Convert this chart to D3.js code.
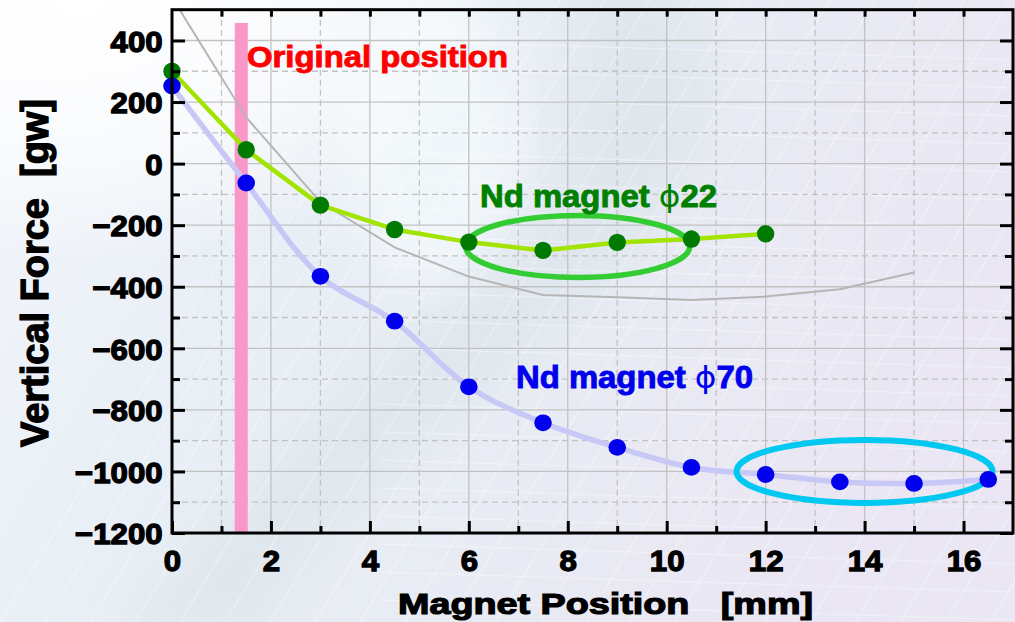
<!DOCTYPE html>
<html><head><meta charset="utf-8">
<script src="https://cdn.jsdelivr.net/npm/d3@7"></script>
<style>
body{margin:0;background:#fff;}
svg{display:block;}
text{font-family:"Liberation Sans",Arial,Helvetica,sans-serif;}
</style>
</head><body>
<svg id="chart" width="1015" height="622"></svg>
<script>
// ---------- data ----------
const phi22Pos   = [0, 1.5, 3, 4.5, 6, 7.5, 9, 10.5, 12];
const phi22Force = [300, 45, -135, -214, -255, -282, -256, -245, -228];
const phi70Pos   = [0, 1.5, 3, 4.5, 6, 7.5, 9, 10.5, 12, 13.5, 15, 16.5];
const phi70Force = [252, -63, -366, -512, -725, -842, -922, -987, -1010, -1034, -1039, -1026];
const refPos     = [0, 1.5, 3, 4.5, 6, 7.5, 9, 10.5, 12, 13.5, 15];
const refForce   = [540, 150, -125, -272, -367, -427, -434, -443, -432, -408, -354];
const xMajorTicks = [0, 2, 4, 6, 8, 10, 12, 14, 16];
const xMinorTicks = [1, 3, 5, 7, 9, 11, 13, 15];
const yMajorTicks = [-1200, -1000, -800, -600, -400, -200, 0, 200, 400];
const yMinorTicks = [-1100, -900, -700, -500, -300, -100, 100, 300];
const originalPosition = 1.4;
const originalTop = 457;
const labels = {
  x: "Magnet Position   [mm]",
  y: "Vertical Force  [gw]",
  original: "Original position",
  phi22: ["Nd magnet ", "\u03D5", "22"],
  phi70: ["Nd magnet ", "\u03D5", "70"]
};
const phi22Ellipse = {cx: 8.2, cy: -269};
const phi70Ellipse = {cx: 14.0, cy: -1000};

// ---------- setup ----------
const W = 1015, H = 622;
const L = 172, R = 1013, T = 9.7, B = 533;
const svg = d3.select("#chart");
const x = d3.scaleLinear().domain([0, 17]).range([L, R]);
const y = d3.scaleLinear().domain([-1200, 500]).range([B, T]);

const defs = svg.append("defs");
const bg = defs.append("linearGradient").attr("id","bg").attr("x1",0).attr("y1",0).attr("x2",1).attr("y2",0.35);
[["0%","#f3f6fb"],["35%","#e9eff6"],["65%","#e8ecf4"],["100%","#eae6f3"]].forEach(s=>bg.append("stop").attr("offset",s[0]).attr("stop-color",s[1]));
const wr = defs.append("radialGradient").attr("id","wr").attr("cx",0.08).attr("cy",0.0).attr("r",0.42);
wr.append("stop").attr("offset","0%").attr("stop-color","#fff").attr("stop-opacity",1);
wr.append("stop").attr("offset","60%").attr("stop-color","#fff").attr("stop-opacity",0.6);
wr.append("stop").attr("offset","100%").attr("stop-color","#fff").attr("stop-opacity",0);
defs.append("filter").attr("id","blur").append("feGaussianBlur").attr("stdDeviation",24);
defs.append("clipPath").attr("id","plotclip").append("rect").attr("x",L).attr("y",T).attr("width",R-L).attr("height",B-T);

svg.append("rect").attr("width",W).attr("height",H).attr("fill","url(#bg)");
// soft swoosh
svg.append("path").attr("d","M640,-40 C760,40 720,200 560,330 C430,430 320,520 260,640 L120,640 C200,500 360,390 470,280 C580,170 600,60 560,-40 Z")
  .attr("fill","#d6e1e6").attr("opacity",0.45).attr("filter","url(#blur)");
svg.append("ellipse").attr("cx",430).attr("cy",130).attr("rx",90).attr("ry",150)
  .attr("fill","#f4fbfd").attr("opacity",0.7).attr("filter","url(#blur)");
svg.append("rect").attr("width",W).attr("height",H).attr("fill","url(#wr)");
// faint decorative grid texture
const tex = svg.append("g").attr("stroke","#ffffff").attr("stroke-width",1.1).attr("opacity",0.38).attr("fill","none");
d3.range(0, 30).forEach(i=>{
  tex.append("line").attr("x1", 380 + i*45).attr("y1", 0).attr("x2", 0 + i*45).attr("y2", 622);
  tex.append("line").attr("x1", 380).attr("y1", 40 + i*28).attr("x2", 1015).attr("y2", 60 + i*28);
});

// ---------- grid ----------
const grid = svg.append("g");
grid.selectAll(".vmaj").data(xMajorTicks).join("line")
  .attr("x1",d=>x(d)).attr("x2",d=>x(d)).attr("y1",T).attr("y2",B)
  .attr("stroke","#c2c2c2").attr("stroke-width",1.3);
grid.selectAll(".vmin").data(xMinorTicks).join("line")
  .attr("x1",d=>x(d)).attr("x2",d=>x(d)).attr("y1",T).attr("y2",B)
  .attr("stroke","#c2c2c2").attr("stroke-width",1.3).attr("stroke-dasharray","6,4");
grid.selectAll(".hmaj").data(yMajorTicks).join("line")
  .attr("x1",L).attr("x2",R).attr("y1",d=>y(d)).attr("y2",d=>y(d))
  .attr("stroke","#c2c2c2").attr("stroke-width",1.3);
grid.selectAll(".hmin").data(yMinorTicks).join("line")
  .attr("x1",L).attr("x2",R).attr("y1",d=>y(d)).attr("y2",d=>y(d))
  .attr("stroke","#c2c2c2").attr("stroke-width",1.3).attr("stroke-dasharray","6,4");

// ---------- original position bar ----------
svg.append("rect")
  .attr("x", x(originalPosition) - 6.5).attr("width", 13)
  .attr("y", y(originalTop)).attr("height", y(-1200) - y(originalTop))
  .attr("fill", "#f897c8");

// ---------- lines ----------
const plot = svg.append("g").attr("clip-path","url(#plotclip)");
const refData = refPos.map((p,i)=>[p, refForce[i]]);
const d22 = phi22Pos.map((p,i)=>[p, phi22Force[i]]);
const d70 = phi70Pos.map((p,i)=>[p, phi70Force[i]]);

plot.append("path").datum(refData)
  .attr("d", d3.line().x(d=>x(d[0])).y(d=>y(d[1])))
  .attr("fill","none").attr("stroke","#b5b5b5").attr("stroke-width",2);
svg.append("path").datum(d70)
  .attr("d", d3.line().x(d=>x(d[0])).y(d=>y(d[1])).curve(d3.curveCatmullRom.alpha(0.5)))
  .attr("fill","none").attr("stroke","#c8c8f6").attr("stroke-width",5.5).attr("stroke-linejoin","round");
svg.append("path").datum(d22)
  .attr("d", d3.line().x(d=>x(d[0])).y(d=>y(d[1])))
  .attr("fill","none").attr("stroke","#a2e400").attr("stroke-width",4.5).attr("stroke-linejoin","round");

// ---------- ellipses ----------
svg.append("ellipse").attr("cx",x(phi22Ellipse.cx)).attr("cy",y(phi22Ellipse.cy))
  .attr("rx",112).attr("ry",31).attr("fill","none").attr("stroke","#33cc33").attr("stroke-width",5.5);
svg.append("ellipse").attr("cx",x(phi70Ellipse.cx)).attr("cy",y(phi70Ellipse.cy))
  .attr("rx",128).attr("ry",31.5).attr("fill","none").attr("stroke","#00c8f0").attr("stroke-width",6);

// ---------- points ----------
svg.selectAll(".p22").data(d22).join("circle")
  .attr("cx",d=>x(d[0])).attr("cy",d=>y(d[1])).attr("r",8.7).attr("fill","#007a00");
svg.selectAll(".p70").data(d70).join("ellipse")
  .attr("cx",d=>x(d[0])).attr("cy",d=>y(d[1])).attr("rx",8.8).attr("ry",8.4).attr("fill","#0000ee");

// ---------- axes ----------
const fmt = d3.format("d");
const gxB = svg.append("g").attr("transform",`translate(0,${B})`)
  .call(d3.axisBottom(x).tickValues(xMajorTicks).tickSize(-12).tickPadding(38).tickFormat(fmt));
const gxBm = svg.append("g").attr("transform",`translate(0,${B})`)
  .call(d3.axisBottom(x).tickValues(xMinorTicks).tickSize(-7).tickFormat(""));
const gxT = svg.append("g").attr("transform",`translate(0,${T})`)
  .call(d3.axisTop(x).tickValues(d3.range(1,17)).tickSize(-7).tickFormat(""));
const gyL = svg.append("g").attr("transform",`translate(${L},0)`)
  .call(d3.axisLeft(y).tickValues(yMajorTicks).tickSize(-13).tickPadding(9).tickFormat(fmt));
const gyLm = svg.append("g").attr("transform",`translate(${L},0)`)
  .call(d3.axisLeft(y).tickValues(yMinorTicks).tickSize(-8).tickFormat(""));
const gyR = svg.append("g").attr("transform",`translate(${R},0)`)
  .call(d3.axisRight(y).tickValues(yMajorTicks).tickSize(-13).tickFormat(""));
const gyRm = svg.append("g").attr("transform",`translate(${R},0)`)
  .call(d3.axisRight(y).tickValues(yMinorTicks).tickSize(-8).tickFormat(""));
[gxB,gxBm,gxT,gyL,gyLm,gyR,gyRm].forEach(g=>{
  g.select(".domain").remove();
  g.selectAll("line").attr("stroke","#000").attr("stroke-width",3);
});
[gxB, gyL].forEach(g=>g.selectAll("text").attr("font-size",30).attr("font-weight","bold")
  .attr("fill","#000").attr("stroke","#000").attr("stroke-width",1.3)
  .attr("font-family",'"Liberation Sans",Arial,sans-serif'));
gxB.selectAll("text").attr("dy",0).attr("transform","scale(1.04,1)");
gyL.selectAll("text").attr("dy","0.36em").attr("transform","scale(1.04,1)");

// frame
svg.append("rect").attr("x",L).attr("y",T).attr("width",R-L).attr("height",B-T)
  .attr("fill","none").attr("stroke","#000").attr("stroke-width",3);

// ---------- annotations ----------
svg.append("text").attr("x",247).attr("y",67).attr("font-size",30).attr("font-weight","bold")
  .attr("fill","#ff0000").attr("stroke","#ff0000").attr("stroke-width",0.9)
  .attr("textLength",261).attr("lengthAdjust","spacingAndGlyphs").text(labels.original);

function phiLabel(txt, xx, yy, color){
  const t = svg.append("text").attr("x",xx).attr("y",yy).attr("font-size",31).attr("font-weight","bold")
    .attr("fill",color).attr("stroke",color).attr("stroke-width",0.9)
    .attr("textLength",237).attr("lengthAdjust","spacingAndGlyphs");
  t.append("tspan").text(txt[0]);
  t.append("tspan").attr("font-weight","normal").attr("stroke-width",0).attr("font-family","DejaVu Sans").text(txt[1]);
  t.append("tspan").text(txt[2]);
}
phiLabel(labels.phi22, 480, 207, "#008000");
phiLabel(labels.phi70, 516, 388, "#0000ee");

// axis titles
svg.append("text").attr("x",398).attr("y",614).attr("font-size",30).attr("font-weight","bold")
  .attr("fill","#000").attr("stroke","#000").attr("stroke-width",1.2)
  .attr("textLength",415).attr("lengthAdjust","spacingAndGlyphs")
  .style("white-space","pre").text(labels.x);
svg.append("text").attr("transform","translate(48,447) rotate(-90)").attr("font-size",38).attr("font-weight","bold")
  .attr("fill","#000").attr("stroke","#000").attr("stroke-width",1.3)
  .attr("textLength",348).attr("lengthAdjust","spacingAndGlyphs")
  .style("white-space","pre").text(labels.y);
</script>
</body></html>
